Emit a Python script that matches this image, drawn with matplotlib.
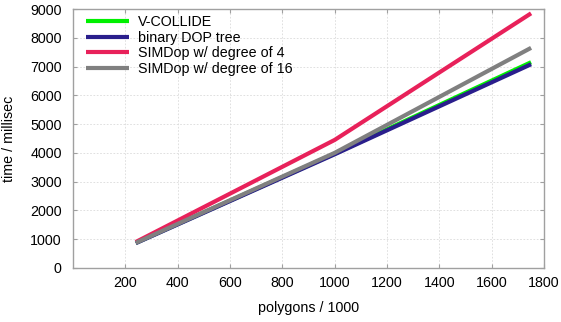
import matplotlib
matplotlib.use("Agg")
import matplotlib.pyplot as plt

plt.rcParams['font.family'] = ['Liberation Sans', 'DejaVu Sans']

polygons = [240, 1000, 1750]
v_collide = [870, 3970, 7150]
binary_dop = [860, 3950, 7080]
simdop4 = [900, 4450, 8850]
simdop16 = [870, 4000, 7650]

labels = ["V-COLLIDE", "binary DOP tree", "SIMDop w/ degree of 4", "SIMDop w/ degree of 16"]
colors = ["#00f000", "#2a1e8c", "#e8215a", "#808080"]

xticks = [200, 400, 600, 800, 1000, 1200, 1400, 1600, 1800]
yticks = [0, 1000, 2000, 3000, 4000, 5000, 6000, 7000, 8000, 9000]

fig = plt.figure(figsize=(5.61, 3.22), dpi=100)
ax = fig.add_axes([0.130, 0.168, 0.840, 0.804])

for y, lab, c in zip([v_collide, binary_dop, simdop4, simdop16], labels, colors):
    ax.plot(polygons, y, color=c, lw=3.0, label=lab, solid_capstyle='butt')

ax.set_xlim(0, 1800)
ax.set_ylim(0, 9000)
ax.set_xticks(xticks)
ax.set_yticks(yticks)
ax.grid(True, color="#dadada", lw=0.6, ls=(0, (2, 2)))
ax.set_axisbelow(True)
for s in ax.spines.values():
    s.set_color("#a0a0a0")
    s.set_linewidth(1.0)
ax.tick_params(axis='both', direction='in', length=3, color="#a0a0a0", labelsize=10.3,
               top=True, right=True)
ax.tick_params(axis='y', pad=8)
ax.tick_params(axis='x', pad=6)
ax.set_xlabel("polygons / 1000", fontsize=10.3, labelpad=8)
ax.set_ylabel("time / millisec", fontsize=10.3, labelpad=10)

leg = ax.legend(loc='upper left', frameon=False, fontsize=10.3, handlelength=3.0,
                handletextpad=0.6, labelspacing=0.12, borderaxespad=0.2,
                bbox_to_anchor=(0.01, 1.01))

fig.savefig("out.png", dpi=100)
